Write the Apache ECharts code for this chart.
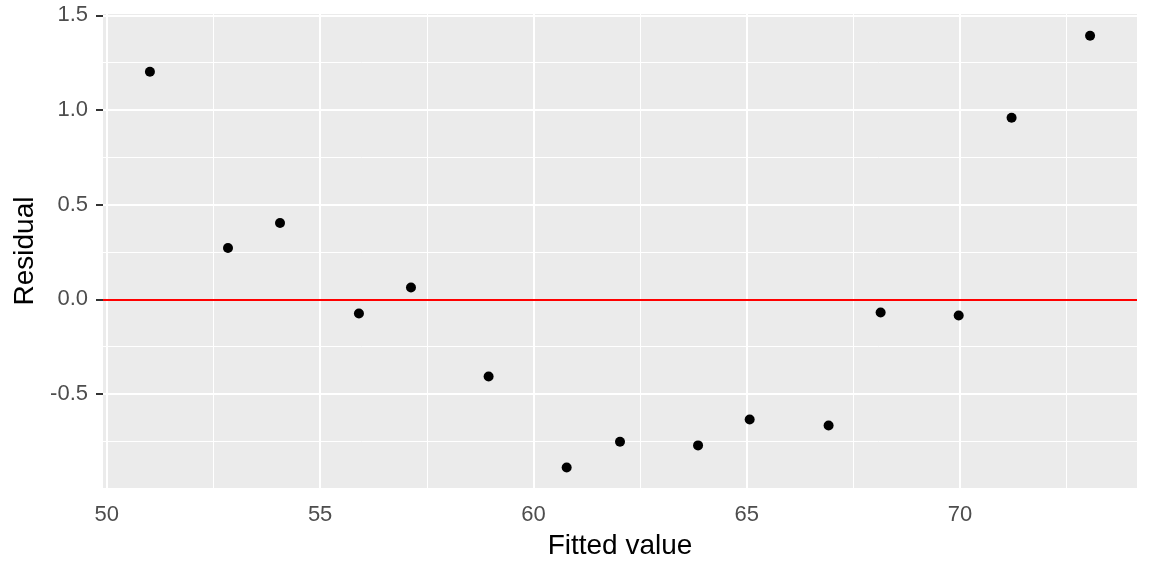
<!DOCTYPE html>
<html>
<head>
<meta charset="utf-8">
<script src="https://cdn.jsdelivr.net/npm/echarts@6/dist/echarts.min.js"></script>
<style>
  html, body { margin: 0; padding: 0; background: #fff; }
  #chart { width: 1152px; height: 576px; }
</style>
</head>
<body>
<div id="chart"></div>
<script>
// values
const fitted = [51.01, 52.84, 54.06, 55.91, 57.13, 58.95, 60.78, 62.03, 63.86, 65.07, 66.92, 68.14, 69.97, 71.21, 73.05];
const residual = [1.202, 0.271, 0.403, -0.075, 0.062, -0.408, -0.889, -0.753, -0.772, -0.635, -0.667, -0.070, -0.086, 0.959, 1.392];

// axis breaks
const xMajor = [50, 55, 60, 65, 70];
const xMinor = [52.5, 57.5, 62.5, 67.5, 72.5];
const yMajor = [-0.5, 0, 0.5, 1.0, 1.5];
const yMinor = [-0.75, -0.25, 0.25, 0.75, 1.25];
const hlineY = 0;

const chart = echarts.init(document.getElementById('chart'));

const font = 'Liberation Sans, Arial, sans-serif';

// 网格线用 markLine 画
const gridLines = (xs, ys) => [
    ...xs.map(v => ({ xAxis: v })),
    ...ys.map(v => ({ yAxis: v }))
];

const option = {
    animation: false,
    grid: {
        left: 103,
        right: 15,
        top: 14,
        bottom: 88,
        show: true,
        backgroundColor: '#EBEBEB',
        borderWidth: 0
    },
    xAxis: {
        type: 'value',
        min: 49.91,
        max: 74.15,
        name: 'Fitted value',
        nameLocation: 'middle',
        nameGap: 44,
        nameTextStyle: { fontSize: 28, color: '#000', fontFamily: font },
        axisLine: { show: false },
        splitLine: { show: false },
        axisTick: {
            show: true,
            length: 7,
            customValues: xMajor,
            lineStyle: { color: '#333333', width: 2 }
        },
        axisLabel: {
            customValues: xMajor,
            margin: 16,
            fontSize: 22,
            color: '#4D4D4D',
            fontFamily: font
        }
    },
    yAxis: {
        type: 'value',
        min: -0.997,
        max: 1.507,
        name: 'Residual',
        nameLocation: 'middle',
        nameRotate: 90,
        nameGap: 63,
        nameTextStyle: { fontSize: 28, color: '#000', fontFamily: font },
        axisLine: { show: false },
        splitLine: { show: false },
        axisTick: {
            show: true,
            length: 7,
            customValues: yMajor,
            lineStyle: { color: '#333333', width: 2 }
        },
        axisLabel: {
            customValues: yMajor,
            margin: 15,
            fontSize: 22,
            color: '#4D4D4D',
            fontFamily: font,
            formatter: v => v.toFixed(1)
        }
    },
    series: [
        {
            name: 'minor',
            type: 'scatter',
            data: [],
            z: 1,
            silent: true,
            markLine: {
                z: 1,
                silent: true,
                symbol: 'none',
                label: { show: false },
                lineStyle: { color: '#FFFFFF', width: 1, type: 'solid' },
                data: gridLines(xMinor, yMinor)
            }
        },
        {
            name: 'major',
            type: 'scatter',
            data: [],
            z: 1,
            silent: true,
            markLine: {
                z: 1,
                silent: true,
                symbol: 'none',
                label: { show: false },
                lineStyle: { color: '#FFFFFF', width: 2, type: 'solid' },
                data: gridLines(xMajor, yMajor)
            }
        },
        {
            name: 'hline',
            type: 'scatter',
            data: [],
            z: 2,
            silent: true,
            markLine: {
                z: 2,
                silent: true,
                symbol: 'none',
                label: { show: false },
                lineStyle: { color: '#FF0000', width: 2, type: 'solid' },
                data: [{ yAxis: hlineY }]
            }
        },
        {
            name: 'points',
            type: 'scatter',
            z: 3,
            symbol: 'circle',
            symbolSize: 10,
            itemStyle: { color: '#000000', opacity: 1 },
            data: fitted.map((x, i) => [x, residual[i]])
        }
    ]
};

chart.setOption(option);
</script>
</body>
</html>
